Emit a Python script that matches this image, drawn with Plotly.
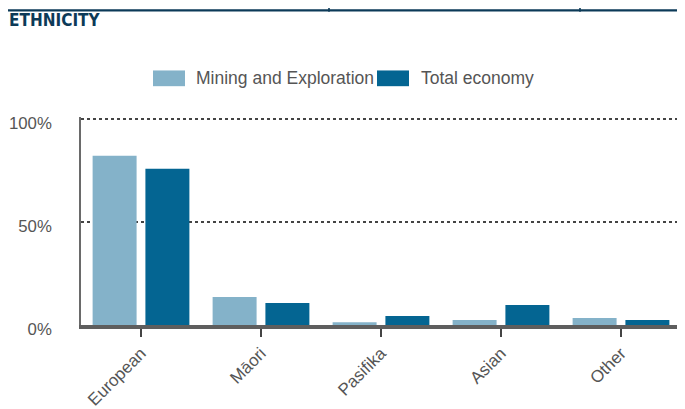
import plotly.graph_objects as go

categories = ["European", "Māori", "Pasifika", "Asian", "Other"]
mining = [82.2, 13.6, 1.3, 2.4, 3.4]
total = [75.9, 10.7, 4.4, 9.7, 2.4]
y_ticks = [0, 50, 100]
y_tick_labels = ["0%", "50%", "100%"]
series_names = ["Mining and Exploration", "Total economy"]
colors = ["#84b2c9", "#046592"]

x_pos = list(range(len(categories)))

fig = go.Figure()
fig.add_trace(go.Bar(x=x_pos, y=mining, name=series_names[0], marker_color=colors[0], marker_line_width=0))
fig.add_trace(go.Bar(x=x_pos, y=total, name=series_names[1], marker_color=colors[1], marker_line_width=0))

# page body has an 8px margin; figure sized to fit the 685x409 window
OFF = 8
W, H = 677, 401
YMAX = 101.0
PXPER = 2.055
L, R, B = 73, 4, 84
PH = 100 * PXPER + (YMAX - 100) * PXPER
T = H - B - PH
PW = W - L - R
fig.update_layout(
    width=W, height=H,
    margin=dict(l=L, r=R, t=T, b=B, pad=0, autoexpand=False),
    paper_bgcolor="white", plot_bgcolor="white",
    barmode="group", bargap=0.12, bargroupgap=0.167,
    showlegend=False,
    font=dict(family="Liberation Sans, Arial, sans-serif", color="#555555", size=17),
)
fig.update_xaxes(
    range=[-0.5, 4.5], tickvals=x_pos, ticktext=categories, tickangle=-45,
    ticks="outside", ticklen=8, tickwidth=2, tickcolor="#444444",
    showline=True, linecolor="#5e5e5e", linewidth=3.5, showgrid=False, zeroline=False,
    tickfont=dict(size=17, color="#555555"), fixedrange=True, automargin=False,
)
fig.update_yaxes(
    range=[0, YMAX], tickvals=y_ticks, ticktext=y_tick_labels,
    showline=True, linecolor="#6a6a6a", linewidth=1.5,
    showgrid=True, gridcolor="#444444", gridwidth=1.5, griddash="dot",
    zeroline=False, ticks="", ticklabelstandoff=24, ticklabelshift=4,
    tickfont=dict(size=16.8, color="#555555"), fixedrange=True, automargin=False,
)

def px(s): return (s - OFF - L) / PW
def py(s): return (T + PH - (s - OFF)) / PH

# custom legend swatches and labels (screen pixel positions)
sw = [(153, 185), (377, 409)]
tx = [194, 419]
for (x0, x1), t, c, n in zip(sw, tx, colors, series_names):
    fig.add_shape(type="rect", xref="paper", yref="paper", x0=px(x0), x1=px(x1),
                  y0=py(86.7), y1=py(71), fillcolor=c, line_width=0)
    fig.add_annotation(xref="paper", yref="paper", x=px(t), y=py(79), text=n,
                       showarrow=False, xanchor="left", yanchor="middle",
                       font=dict(size=17.5, color="#555555"))

# header decoration
navy = "#0c3a58"
fig.add_shape(type="line", xref="paper", yref="paper", x0=px(7), x1=px(700), y0=py(11), y1=py(11),
              line=dict(color=navy, width=2.2))
for xv in [329, 580]:
    fig.add_shape(type="line", xref="paper", yref="paper", x0=px(xv), x1=px(xv), y0=py(0), y1=py(12.5),
                  line=dict(color=navy, width=1.6))
fig.add_annotation(xref="paper", yref="paper", x=px(7), y=py(20.5), text="<b>ETHNICITY</b>",
                   showarrow=False, xanchor="left", yanchor="middle",
                   font=dict(family="DejaVu Sans Condensed, Roboto Condensed, Liberation Sans Narrow, Roboto, sans-serif",
                             size=17, color=navy))

fig.write_html("out.html")
